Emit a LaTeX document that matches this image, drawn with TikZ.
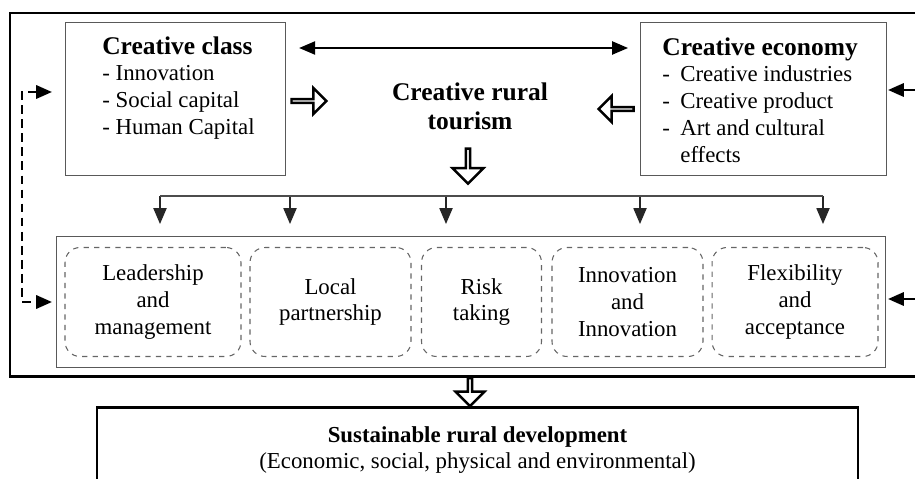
\documentclass[tikz,border=0pt]{standalone}
\usepackage{fontspec}
\setmainfont{Liberation Serif}
\usetikzlibrary{arrows.meta,shapes.arrows}
\newcommand{\listdash}{\makebox[0.36cm][l]{-}}
\tikzset{
  gbox/.style={draw=black!65, line width=0.7pt},
  txt/.style={font=\fontsize{13}{15.3}\selectfont},
  factor/.style={txt, draw=black!60, dashed, rounded corners=0.3cm, line width=0.6pt,
    align=center, minimum height=2.18cm},
  tip/.style={-{Triangle[length=9pt,width=7.5pt]}},
  dtip/.style={{Triangle[length=9pt,width=7.5pt]}-{Triangle[length=9pt,width=7.5pt]}},
  hollow/.style={single arrow, draw, line width=1.4pt, inner sep=0pt, minimum width=0.52cm,
    single arrow head extend=0.14cm, minimum height=0.7cm},
}
\begin{document}
\begin{tikzpicture}[x=0.02cm,y=-0.02cm]
  \useasboundingbox (0,0) rectangle (915,479);
  %%%%%%%%%%%%%Outer frame%%%%%%%%%%%%%%%%%%%%%%
  \draw[line width=1.6pt] (10,13) rectangle (935,376.5);

  %%%%%%%%%%%%%Top row%%%%%%%%%%%%%%%%%%%%%%
  \node[gbox, minimum width=4.4cm, minimum height=3.06cm, anchor=north west] (class) at (65,22) {};
  \node[txt, anchor=north west, inner sep=0pt, align=left] (classtxt) at ([shift={(37,14)}]class.north west)
    {{\fontsize{14.5}{15.3}\selectfont\bfseries Creative class}\\- Innovation\\- Social capital\\- Human Capital};
  \node[gbox, minimum width=4.92cm, minimum height=3.06cm, anchor=north west] (econ) at (640,22) {};
  \node[txt, anchor=north west, inner sep=0pt, align=left] (econtxt) at ([shift={(22,15)}]econ.north west)
    {{\fontsize{14.5}{15.3}\selectfont\bfseries Creative economy}\\\listdash Creative industries\\\listdash Creative product\\\listdash Art and cultural\\\hspace*{0.36cm}effects};
  \node[align=center, font=\fontsize{14.5}{16.4}\selectfont\bfseries] (tour) at (470,106) {Creative rural\\tourism};

  \draw[dtip, line width=0.8pt] ([shift={(13,26)}]class.north east) -- ([shift={(-12,26)}]econ.north west);

  \node[hollow] (toright) at (308,101) {};
  \node[hollow, shape border rotate=180] (toleft) at (617,109) {};
  \node[hollow, shape border rotate=270, minimum width=0.62cm, single arrow head extend=0.16cm] (todown) at (468,165) {};

  %%%%%%%%%%%%%Bracket%%%%%%%%%%%%%%%%%%%%%%
  \foreach \x [count=\i] in {160,290,446,640,823}{
    \coordinate (top\i) at (\x,196);
    \coordinate (tip\i) at (\x,224);
    \draw[tip, black!85, line width=0.7pt] (top\i) -- (tip\i);
  }
  \draw[black!70, line width=0.7pt] (top1) -- (top5);

  %%%%%%%%%%%%%Factors%%%%%%%%%%%%%%%%%%%%%%
  \node[gbox, minimum width=16.58cm, minimum height=2.62cm, anchor=north west] (factors) at (56,236) {};
  \node[factor, minimum width=3.52cm] (lead) at (153,302) {Leadership\\and\\management};
  \node[factor, minimum width=3.22cm] (local) at (330.5,302) {Local\\partnership};
  \node[factor, minimum width=2.40cm] (risk) at (481.5,302) {Risk\\taking};
  \node[factor, minimum width=3.02cm] (innov) at (627.5,302) {Innovation\\and\\Innovation};
  \node[factor, minimum width=3.32cm] (flex) at (795,302) {Flexibility\\and\\acceptance};

  %%%%%%%%%%%%%Feedback%%%%%%%%%%%%%%%%%%%%%%
  \coordinate (fbtop) at (52,92);
  \coordinate (fbbot) at (52,302);
  \draw[dtip, line width=1.5pt, dash pattern=on 5pt off 3pt] (fbtop) -- ++(-30,0) |- (fbbot);

  \coordinate (inA) at (916,90);
  \coordinate (inAtip) at (888,90);
  \coordinate (inB) at (916,299);
  \coordinate (inBtip) at (888,299);
  \draw[tip, line width=1.5pt] (inA) -- (inAtip);
  \draw[tip, line width=1.5pt] (inB) -- (inBtip);

  %%%%%%%%%%%%%Result%%%%%%%%%%%%%%%%%%%%%%
  \node[hollow, shape border rotate=270, minimum width=0.58cm, minimum height=0.56cm] (tosust) at (470,391) {};
  \node[txt, draw, line width=1.5pt, minimum width=15.22cm, minimum height=1.7cm, align=center] (sust) at (477.5,450)
    {{\bfseries Sustainable rural development}\\(Economic, social, physical and environmental)};
\end{tikzpicture}
\end{document}
